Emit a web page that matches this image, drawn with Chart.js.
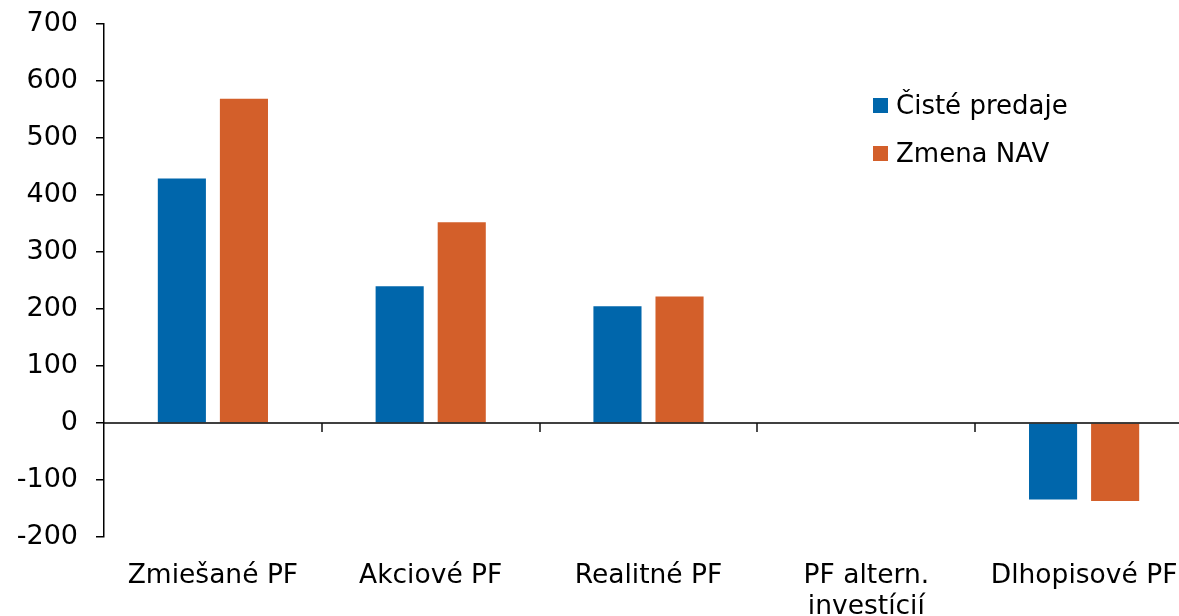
<!DOCTYPE html>
<html>
<head>
<meta charset="utf-8">
<script src="https://cdn.jsdelivr.net/npm/chart.js@4.4.0/dist/chart.umd.min.js"></script>
<style>
  html, body { margin: 0; padding: 0; overflow: hidden; background: #fff; }
  #wrap { position: relative; width: 1179px; height: 616px; overflow: hidden; }
  #myChart { position: absolute; left: 0; top: 0; }
  #legend { position: absolute; left: 873px; top: 88px; font-family: 'DejaVu Sans', Verdana, sans-serif; font-size: 26px; color: #000; }
  .item { display: flex; align-items: center; height: 34px; margin-bottom: 14px; }
  .box { width: 15px; height: 15px; margin-right: 8px; }
</style>
</head>
<body>
<div id="wrap">
  <canvas id="myChart" width="1200" height="616"></canvas>
  <div id="legend"></div>
</div>
<script>
const categories = ['Zmiešané PF', 'Akciové PF', 'Realitné PF', ['PF altern.', 'investícií'], 'Dlhopisové PF'];
const cistePredaje = [429, 240, 205, 0, -134];
const zmenaNAV = [569, 352, 222, 0, -137];
const seriesNames = ['Čisté predaje', 'Zmena NAV'];
const seriesColors = ['#0066ab', '#d35f2a'];

// zero line + category separators on it
const zeroLine = {
  id: 'zeroLine',
  afterDatasetsDraw(chart) {
    const ctx = chart.ctx;
    const x = chart.scales.x;
    const y0 = chart.scales.y.getPixelForValue(0);
    ctx.save();
    ctx.strokeStyle = '#000';
    ctx.lineWidth = 1.5;
    ctx.beginPath();
    ctx.moveTo(chart.chartArea.left, y0);
    ctx.lineTo(chart.chartArea.right, y0);
    ctx.stroke();
    ctx.strokeStyle = '#111';
    for (let i = 1; i < categories.length; i++) {
      const xb = Math.round((x.getPixelForTick(i - 1) + x.getPixelForTick(i)) / 2);
      ctx.beginPath();
      ctx.moveTo(xb, y0);
      ctx.lineTo(xb, y0 + 9);
      ctx.stroke();
    }
    ctx.restore();
  }
};

function createChart() {
  const ctx = document.getElementById('myChart').getContext('2d');
  const family = "'DejaVu Sans', Verdana, sans-serif";

  const data = {
    labels: categories,
    datasets: [
      { label: seriesNames[0], data: cistePredaje, backgroundColor: seriesColors[0] },
      { label: seriesNames[1], data: zmenaNAV, backgroundColor: seriesColors[1] }
    ]
  };

  const options = {
    responsive: false,
    animation: false,
    layout: { padding: { top: 24, right: 7, left: 0, bottom: 0 } },
    datasets: { bar: { categoryPercentage: 0.57, barPercentage: 0.775 } },
    plugins: { legend: { display: false }, tooltip: { enabled: false } },
    scales: {
      x: {
        grid: { display: false },
        border: { display: false },
        ticks: { color: '#000', font: { family: family, size: 26.5, lineHeight: 1.15 }, padding: 16, maxRotation: 0, autoSkip: false },
        afterFit(s) { s.height = 79; }
      },
      y: {
        min: -200,
        max: 700,
        ticks: { stepSize: 100, color: '#000', font: { family: family, size: 27 }, padding: 18 },
        grid: { drawOnChartArea: false, drawTicks: true, tickLength: 8, color: '#000', lineWidth: 1.5 },
        border: { display: true, color: '#000', width: 1.5 },
        afterFit(s) { s.width = 104; s.paddingTop = 0; s.paddingBottom = 0; }
      }
    }
  };

  new Chart(ctx, { type: 'bar', data: data, options: options, plugins: [zeroLine] });

  const legend = document.getElementById('legend');
  seriesNames.forEach((name, i) => {
    const row = document.createElement('div');
    row.className = 'item';
    row.innerHTML = '<span class="box" style="background:' + seriesColors[i] + '"></span><span>' + name + '</span>';
    legend.appendChild(row);
  });
}

createChart();
</script>
</body>
</html>
